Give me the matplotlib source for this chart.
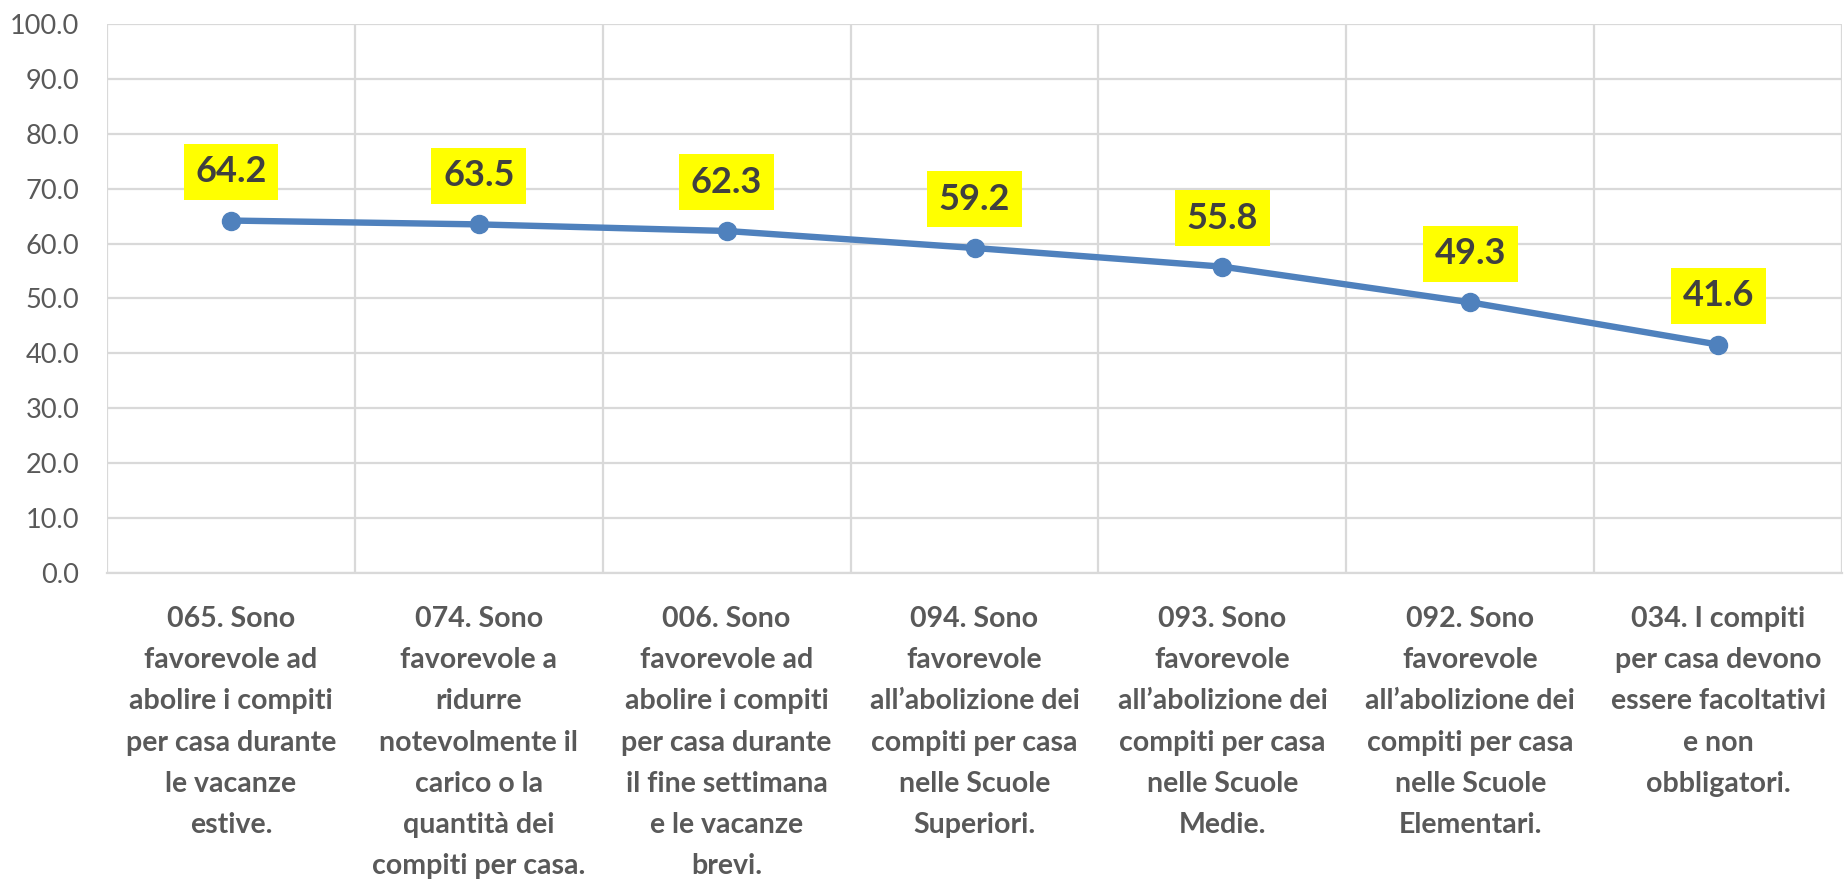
import matplotlib.pyplot as plt
import numpy as np

categories = [
    "065. Sono\nfavorevole ad\nabolire i compiti\nper casa durante\nle vacanze\nestive.",
    "074. Sono\nfavorevole a\nridurre\nnotevolmente il\ncarico o la\nquantità dei\ncompiti per casa.",
    "006. Sono\nfavorevole ad\nabolire i compiti\nper casa durante\nil fine settimana\ne le vacanze\nbrevi.",
    "094. Sono\nfavorevole\nall’abolizione dei\ncompiti per casa\nnelle Scuole\nSuperiori.",
    "093. Sono\nfavorevole\nall’abolizione dei\ncompiti per casa\nnelle Scuole\nMedie.",
    "092. Sono\nfavorevole\nall’abolizione dei\ncompiti per casa\nnelle Scuole\nElementari.",
    "034. I compiti\nper casa devono\nessere facoltativi\ne non\nobbligatori.",
]
values = [64.2, 63.5, 62.3, 59.2, 55.8, 49.3, 41.6]
yticks = np.arange(0, 101, 10)

plt.rcParams['font.family'] = ['Lato', 'DejaVu Sans']

fig = plt.figure(figsize=(18.44, 8.91), dpi=100)
ax = fig.add_axes([0.058, 0.357, 0.941, 0.616])

x = np.arange(len(values))
ax.plot(x, values, color="#4F81BD", linewidth=4.6, marker="o", markersize=13,
        solid_capstyle="round", zorder=3)

# yellow value labels above each point
for xi, v in zip(x, values):
    ax.annotate(f"{v:.1f}", (xi, v), xytext=(0, 35), textcoords="offset points",
                ha="center", va="center", fontsize=26, fontweight="bold", color="#404040",
                bbox=dict(boxstyle="square,pad=0.32", facecolor="#FFFF00", edgecolor="none"),
                zorder=4)

ax.set_xlim(-0.5, len(values) - 0.5)
ax.set_ylim(0, 100)
ax.set_yticks(yticks)
ax.set_yticklabels([f"{t:.1f}" for t in yticks], fontsize=19.5, color="#595959")
ax.set_xticks(x)
ax.set_xticklabels(categories, fontsize=20.5, fontweight="bold", color="#595959",
                   linespacing=1.72)
ax.tick_params(axis="y", length=0, pad=20)
ax.tick_params(axis="x", length=0, pad=24)

ax.set_xticks(np.arange(-0.5, len(values), 1), minor=True)
ax.tick_params(axis="x", which="minor", length=0)
ax.grid(axis="y", color="#D9D9D9", linewidth=1.6)
ax.grid(axis="x", which="minor", color="#D9D9D9", linewidth=1.6)
ax.set_axisbelow(True)
for side in ["top", "right", "left"]:
    ax.spines[side].set_visible(False)
ax.spines["bottom"].set_color("#D9D9D9")
ax.spines["bottom"].set_linewidth(1.6)

fig.savefig("out.png", dpi=100)
